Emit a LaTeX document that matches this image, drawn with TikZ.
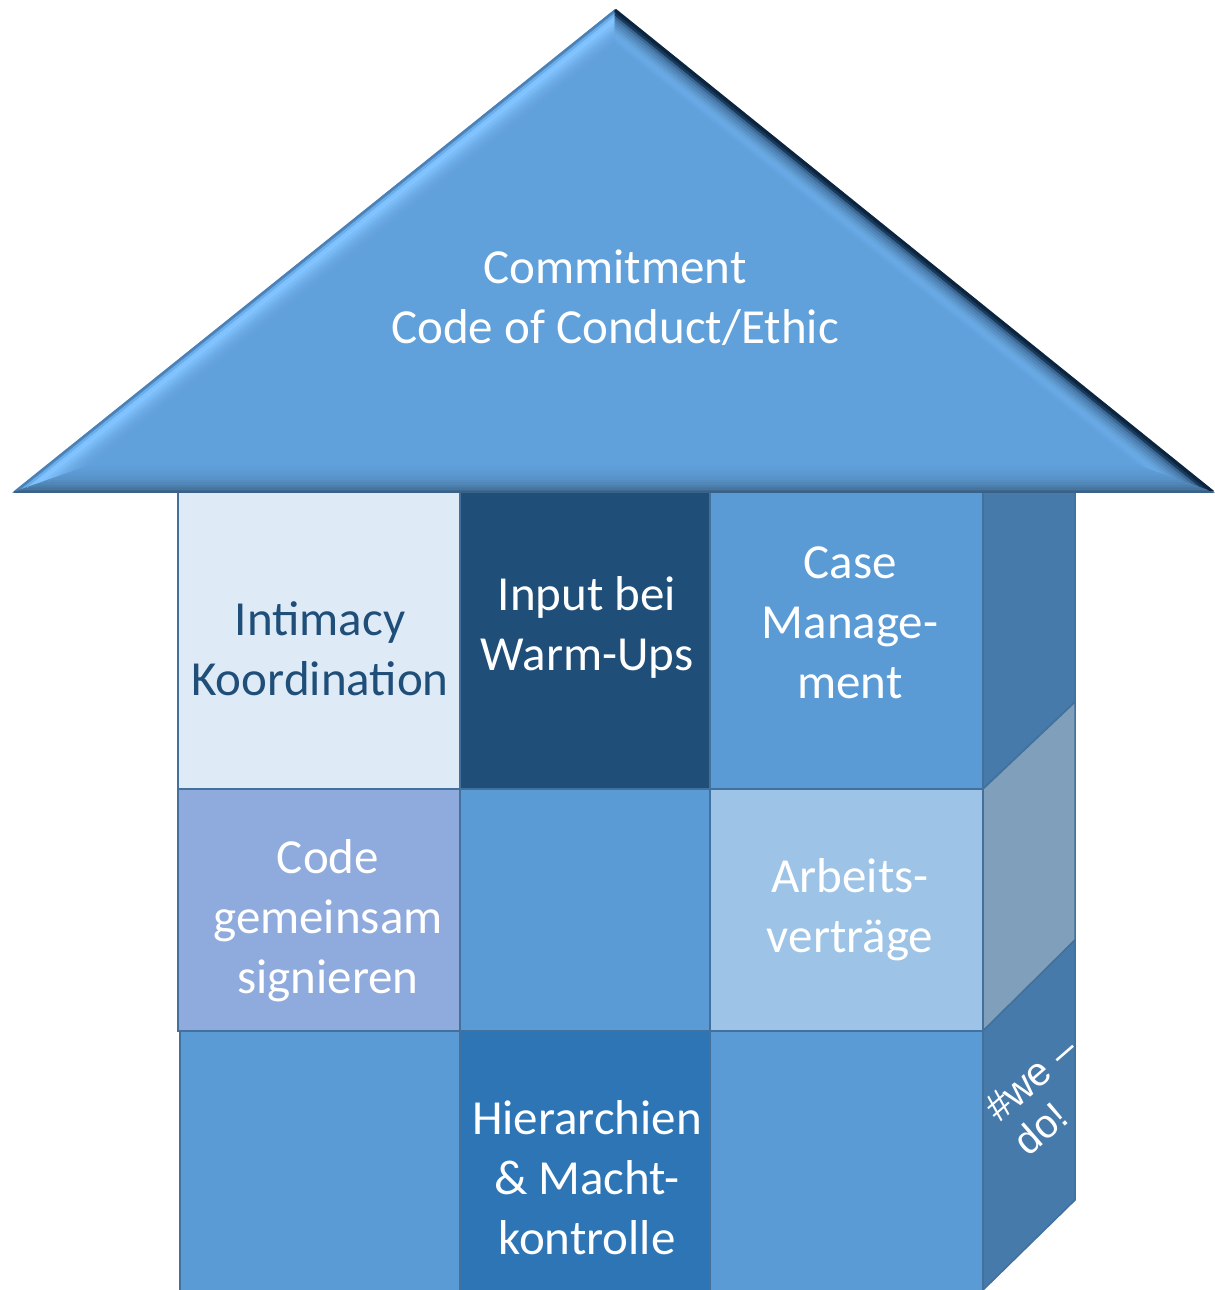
\documentclass[tikz,border=0pt]{standalone}
\usepackage{fontspec}
\setmainfont{Carlito}
\newfontfamily\arialfont{Liberation Sans}
\usetikzlibrary{calc}
\definecolor{roof}{HTML}{60A0DB}
\definecolor{edge}{HTML}{41719C}
\definecolor{cA}{HTML}{DEEAF6}
\definecolor{txtA}{HTML}{1F4E79}
\definecolor{cB}{HTML}{1F4E79}
\definecolor{cMid}{HTML}{5B9BD5}
\definecolor{cD}{HTML}{8FAADC}
\definecolor{cF}{HTML}{9DC3E6}
\definecolor{cH}{HTML}{2E75B6}
\definecolor{sideDark}{HTML}{467AAB}
\definecolor{sideLight}{HTML}{7F9FBA}
\definecolor{roofEdgeL}{HTML}{4A80B6}
\definecolor{roofEdgeR}{HTML}{0B2540}
\definecolor{roofEdgeB}{HTML}{3A6188}
\begin{document}
\begin{tikzpicture}[x=0.5pt,y=-0.5pt,
  cell/.style={draw=edge,line width=0.75pt},
  lbl/.style={align=center,font=\fontsize{24.5}{30}\selectfont,text=white,inner sep=0pt},
  sidetxt/.style={font=\arialfont\fontsize{20}{22.3}\selectfont,text=white,inner sep=0pt,anchor=base west,rotate=41}]
\useasboundingbox (0,0) rectangle (1215,1290);
% ---- house body ----
\draw[cell,fill=cA]   (178,492) rectangle (460,789);
\draw[cell,fill=cB]   (460,492) rectangle (710,789);
\draw[cell,fill=cMid] (710,492) rectangle (983,789);
\draw[cell,fill=cD]   (178,789) rectangle (460,1031);
\draw[cell,fill=cMid] (460,789) rectangle (710,1031);
\draw[cell,fill=cF]   (710,789) rectangle (983,1031);
\draw[cell,fill=cMid] (180,1031) rectangle (460,1292);
\draw[cell,fill=cH]   (460,1031) rectangle (710,1292);
\draw[cell,fill=cMid] (710,1031) rectangle (983,1292);
% ---- side faces ----
\draw[cell,fill=sideDark]  (983,492) -- (1075,492) -- (1075,702) -- (983,789) -- cycle;
\draw[cell,fill=sideLight] (983,789) -- (1075,702) -- (1075,940) -- (983,1031) -- cycle;
\draw[cell,fill=sideDark]  (983,1031) -- (1075,940) -- (1075,1200) -- (983,1290) -- cycle;
\begin{scope}
  \clip (984,1031) -- (1074,943) -- (1074,1200) -- (984,1290) -- cycle;
  \node[sidetxt] (we) at (999,1124)
    {\begin{tabular}[t]{@{}l@{}}\#we –\\do!\end{tabular}};
\end{scope}
% ---- cell labels ----
\node[lbl,text=txtA] (intim) at (320,649) {Intimacy\\Koordination};
\node[lbl] (input) at (587,627) {Input bei\\Warm-Ups};
\node[lbl] (case) at (850,623) {Case\\Manage-\\ment};
\node[lbl] (code) at (328,921) {Code\\gemeinsam\\signieren};
\node[lbl] (arb) at (850,910) {Arbeits-\\verträge};
\node[lbl] (hier) at (587,1178) {Hierarchien\\\& Macht-\\kontrolle};
% ---- roof ----
\coordinate (Ac) at (615,10);
\coordinate (Lc) at (14,492);
\coordinate (Rc) at (1213,492);
\coordinate (Ic) at (614.6,280.9);
\fill[roof] (Ac) -- (Lc) -- (Rc) -- cycle;
\foreach \i/\cl/\cr/\cb in {
  0/4F86BD/0E2A48/3E6890, 1/6AAEEA/1A3A5C/46759F, 2/80C2FF/3A6792/4C7FAC,
  3/82C4FF/4A7DAE/5187B7, 4/7CBDF8/5389BC/558DC0, 5/76B6F1/5B95C9/5892C8,
  6/70B0EA/62A0D6/5A96CE, 7/6BAAE5/67A8E2/5C99D2, 8/67A6E1/69AAE6/5D9BD5,
  9/64A3DE/66A6E2/5E9DD8, 10/62A1DC/62A2DD/5F9EDA, 11/60A0DB/60A0DB/60A0DB}{
  \pgfmathsetmacro\ka{1-\i*0.01184}
  \pgfmathsetmacro\kb{1-(\i+1)*0.01184}
  \definecolor{tmpL}{HTML}{\cl}
  \definecolor{tmpR}{HTML}{\cr}
  \definecolor{tmpB}{HTML}{\cb}
  \filldraw[fill=tmpL,draw=tmpL,line width=0.3pt]
    ($(Ic)!\ka!(Lc)$) -- ($(Ic)!\ka!(Ac)$) -- ($(Ic)!\kb!(Ac)$) -- ($(Ic)!\kb!(Lc)$) -- cycle;
  \filldraw[fill=tmpR,draw=tmpR,line width=0.3pt]
    ($(Ic)!\ka!(Ac)$) -- ($(Ic)!\ka!(Rc)$) -- ($(Ic)!\kb!(Rc)$) -- ($(Ic)!\kb!(Ac)$) -- cycle;
  \filldraw[fill=tmpB,draw=tmpB,line width=0.3pt]
    ($(Ic)!\ka!(Rc)$) -- ($(Ic)!\ka!(Lc)$) -- ($(Ic)!\kb!(Lc)$) -- ($(Ic)!\kb!(Rc)$) -- cycle;
}
\draw[draw=roofEdgeL,line width=0.8pt] (Lc) -- (Ac);
\draw[draw=roofEdgeR,line width=1.5pt] (Ac) -- (Rc);
\draw[draw=roofEdgeB,line width=0.8pt] (Lc) -- (Rc);
\node[lbl] (roofTxt) at (615,298) {Commitment\\Code of Conduct/Ethic};
\end{tikzpicture}
\end{document}
